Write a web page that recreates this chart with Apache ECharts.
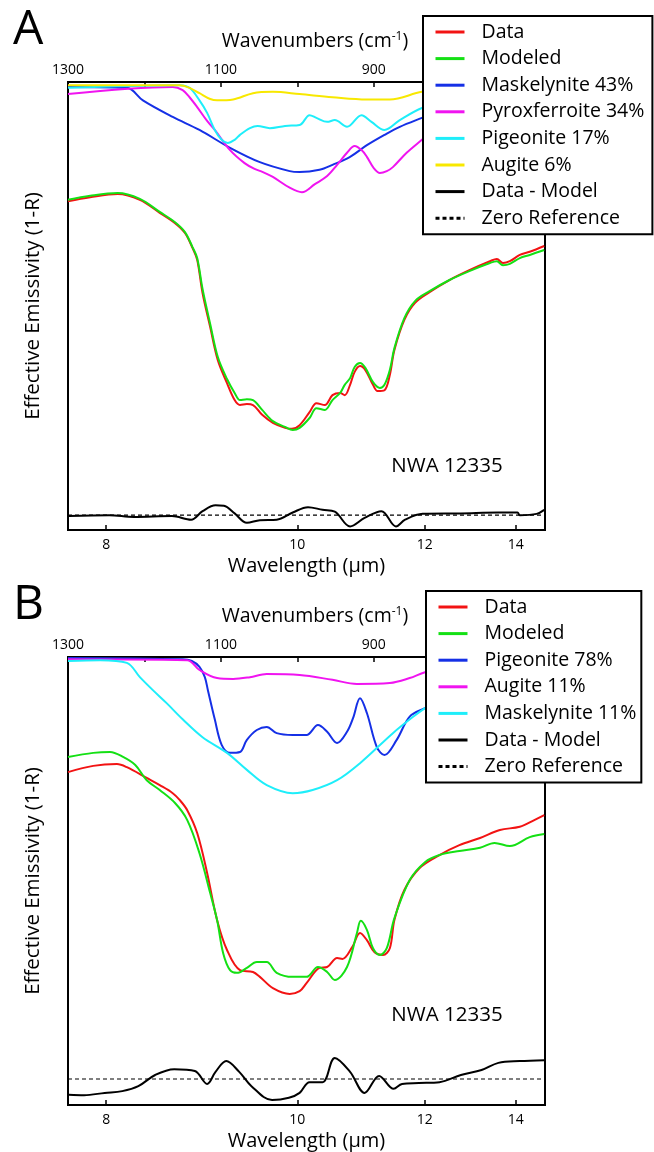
<!DOCTYPE html>
<html>
<head>
<meta charset="utf-8">
<script src="https://cdn.jsdelivr.net/npm/echarts@6/dist/echarts.min.js"></script>
<style>
  html, body { margin: 0; padding: 0; background: #fff; }
  #chart { width: 654px; height: 1152px; }
</style>
</head>
<body>
<div id="chart"></div>
<script>
// x = wavenumber (cm-1), y = emissivity on an arbitrary offset scale (0-100, no labels in the figure)
var X_MIN = 676, X_MAX = 1300;
var topTicks = [1300, 1200, 1100, 1000, 900, 800, 700];
var topLabels = [1300, 1100, 900, 700];
var wavelengthLabels = [8, 10, 12, 14];   // µm

// ---- panel A ----
var dataA = [[1300,73.4],[1271,74.3],[1235,75.0],[1206,73.7],[1180,70.8],[1160,68.5],[1147,66.3],[1137,62.9],
  [1131,60.3],[1124,52.9],[1114,45.3],[1104,37.9],[1092,32.8],[1082,29.0],[1075,27.9],[1066,28.1],[1058,27.9],
  [1046,25.7],[1032,23.9],[1016,22.8],[1007,22.6],[997,23.4],[984,26.3],[975,28.3],[964,27.9],[954,30.1],
  [944,30.6],[938,30.1],[931,32.4],[925,35.3],[918,36.6],[911,35.7],[901,32.4],[895,31.0],[886,31.2],
  [879,34.6],[873,40.2],[860,46.9],[846,50.7],[827,53.1],[801,55.8],[775,58.0],[748,60.0],[739,60.5],
  [731,59.6],[722,60.0],[709,61.4],[696,62.1],[677,63.4]];
var modelA = [[1300,73.7],[1271,74.6],[1235,75.2],[1206,73.9],[1180,71.0],[1160,68.7],[1147,66.5],[1137,63.1],
  [1131,60.7],[1124,53.8],[1114,46.0],[1104,38.6],[1092,33.7],[1082,30.6],[1075,29.0],[1066,29.2],[1058,29.0],
  [1046,26.8],[1032,24.3],[1016,23.0],[1006,22.3],[997,22.8],[984,25.0],[975,27.2],[964,26.8],[954,29.0],
  [944,30.6],[938,32.4],[931,33.9],[925,36.4],[918,37.3],[911,36.2],[901,33.0],[892,31.7],[886,32.4],
  [879,35.7],[873,40.6],[860,47.3],[846,51.1],[827,53.3],[801,55.8],[775,57.8],[748,59.6],[739,60.0],
  [731,59.1],[722,59.4],[709,60.7],[696,61.4],[677,62.5]];
var maskelyniteA = [[1300,98.9],[1223,98.7],[1202,95.9],[1163,92.2],[1128,89.3],[1088,85.3],[1049,82.1],
  [1010,80.1],[997,79.9],[971,80.4],[954,81.5],[931,83.3],[909,85.9],[886,88.2],[866,90.0],[837,92.0],
  [801,94.4],[748,96.6],[677,97.8]];
var pyroxferroiteA = [[1300,97.3],[1163,98.9],[1150,98.2],[1141,96.6],[1131,94.4],[1118,91.3],[1108,89.3],
  [1088,84.8],[1069,81.9],[1056,80.6],[1045,79.9],[1032,78.8],[1010,76.4],[994,75.4],[977,77.2],[961,79.0],
  [948,81.5],[935,84.2],[925,85.7],[916,84.8],[909,83.3],[900,80.8],[892,79.7],[883,80.1],[875,81.0],
  [857,84.2],[837,87.1],[814,90.4],[775,94.2],[735,96.0],[677,97.1]];
var pigeoniteA = [[1300,98.7],[1154,99.3],[1141,98.7],[1128,95.9],[1118,93.1],[1108,89.3],[1099,87.1],
  [1091,86.4],[1082,87.1],[1075,88.2],[1062,89.7],[1052,90.2],[1036,89.7],[1016,90.2],[997,90.4],[984,92.6],
  [975,92.0],[961,91.1],[951,91.5],[935,90.0],[916,92.6],[903,91.1],[886,89.3],[866,91.5],[837,94.2],
  [801,96.0],[735,97.8],[677,98.7]];
var augiteA = [[1300,99.3],[1154,99.3],[1141,98.7],[1128,97.5],[1114,96.2],[1105,95.9],[1084,96.1],
  [1058,97.5],[1032,97.8],[997,97.3],[954,96.6],[909,96.1],[879,96.1],[837,97.8],[788,98.7],[677,99.1]];
var residualA = [[1299,3.1],[1246,3.3],[1214,2.9],[1164,3.1],[1139,2.3],[1124,4.2],[1107,5.5],[1096,5.4],
  [1082,3.7],[1066,1.6],[1049,2.2],[1027,2.3],[1006,3.9],[986,5.1],[967,4.5],[951,4.1],[931,0.8],[912,2.7],
  [890,4.2],[871,0.8],[859,2.3],[836,3.6],[786,3.7],[737,3.9],[712,3.9],[709,3.3],[687,3.6],[677,4.5]];
var zeroA = 3.3;

// ---- panel B ----
var dataB = [[1300,74.3],[1267,75.7],[1236,76.1],[1223,75.4],[1197,73.0],[1180,71.4],[1163,69.6],[1154,68.1],
  [1144,65.8],[1131,60.7],[1118,51.8],[1105,41.3],[1092,34.6],[1075,30.1],[1058,29.7],[1049,28.6],[1032,26.1],
  [1010,24.8],[997,25.4],[988,27.2],[971,30.6],[961,30.8],[948,32.8],[941,32.6],[928,35.3],[918,38.4],
  [909,36.8],[899,34.1],[888,33.5],[879,35.0],[873,41.3],[860,48.0],[840,52.9],[814,55.8],[788,58.0],
  [761,59.6],[735,61.4],[709,62.1],[690,63.6],[677,64.7]];
var modelB = [[1300,77.7],[1267,78.6],[1245,78.8],[1228,77.7],[1212,75.9],[1197,72.5],[1180,70.3],[1160,67.4],
  [1144,63.6],[1128,56.2],[1114,47.3],[1105,41.3],[1097,33.9],[1088,30.1],[1079,29.5],[1066,30.6],[1053,31.9],
  [1040,31.9],[1027,29.5],[1006,28.6],[988,28.6],[973,30.8],[961,29.7],[951,27.9],[935,30.8],[922,38.4],
  [917,41.1],[909,39.1],[901,35.0],[892,33.5],[883,35.0],[873,41.7],[853,50.2],[833,54.2],[814,55.8],
  [788,56.7],[761,57.4],[742,58.5],[722,57.8],[696,59.8],[677,60.5]];
var pigeoniteB = [[1300,99.8],[1150,99.5],[1138,99.1],[1128,97.8],[1121,95.5],[1117,92.6],[1108,86.1],
  [1099,80.4],[1088,78.6],[1075,78.8],[1066,81.5],[1053,83.7],[1040,84.4],[1027,83.0],[1006,82.6],[988,82.6],
  [973,84.8],[961,83.3],[948,80.8],[935,83.3],[927,86.4],[918,90.8],[909,87.5],[896,79.9],[886,78.1],
  [870,81.5],[853,86.7],[833,88.6],[801,91.5],[748,96.0],[677,98.9]];
var augiteB = [[1300,99.5],[1144,99.3],[1128,97.1],[1105,95.3],[1084,95.1],[1062,95.5],[1040,96.2],[997,96.0],
  [954,94.9],[922,94.0],[879,94.2],[853,95.3],[833,96.6],[788,98.2],[677,99.3]];
var maskelyniteB = [[1300,99.1],[1258,99.3],[1223,98.7],[1206,95.5],[1189,92.6],[1171,89.7],[1150,86.1],
  [1124,82.1],[1092,78.6],[1066,74.8],[1040,71.4],[1006,69.6],[980,70.3],[948,72.5],[918,76.3],[875,83.0],
  [849,86.6],[833,88.6],[788,93.7],[735,97.1],[677,98.7]];
var residualB = [[1299,2.3],[1279,2.2],[1252,2.7],[1229,3.1],[1208,4.2],[1186,6.7],[1161,8.0],[1134,7.6],
  [1118,4.7],[1107,7.4],[1093,9.8],[1076,7.4],[1060,4.2],[1033,1.1],[1011,1.6],[997,2.7],[984,5.1],[967,5.1],
  [951,10.5],[931,7.4],[912,2.7],[893,6.5],[874,3.6],[863,4.7],[841,4.9],[814,5.1],[786,6.7],[759,7.8],
  [737,9.4],[709,9.8],[677,10.0]];
var zeroB = 5.8;

var FONT = '"Open Sans", "Noto Sans", sans-serif';
var RED = '#f21313', GREEN = '#14e014', BLUE = '#1530e6', MAGENTA = '#f014f0', CYAN = '#1eeefa', YELLOW = '#f8e800';

var panels = [
  {letter: 'A', top: 0, legendLeft: 423, padRight: 8, nwaY: 466, zero: zeroA, lines: [
    {name: 'Data', color: RED, data: dataA},
    {name: 'Modeled', color: GREEN, data: modelA},
    {name: 'Maskelynite 43%', color: BLUE, data: maskelyniteA},
    {name: 'Pyroxferroite 34%', color: MAGENTA, data: pyroxferroiteA},
    {name: 'Pigeonite 17%', color: CYAN, data: pigeoniteA},
    {name: 'Augite 6%', color: YELLOW, data: augiteA},
    {name: 'Data - Model', color: '#000', data: residualA}]},
  {letter: 'B', top: 575, legendLeft: 426, padRight: 5, nwaY: 1015, zero: zeroB, lines: [
    {name: 'Data', color: RED, data: dataB},
    {name: 'Modeled', color: GREEN, data: modelB},
    {name: 'Pigeonite 78%', color: BLUE, data: pigeoniteB},
    {name: 'Augite 11%', color: MAGENTA, data: augiteB},
    {name: 'Maskelynite 11%', color: CYAN, data: maskelyniteB},
    {name: 'Data - Model', color: '#000', data: residualB}]}
];

var bottomTicks = wavelengthLabels.map(function (l) { return 10000 / l; });
var grids = [], xAxes = [], yAxes = [], legends = [], graphics = [], series = [];

panels.forEach(function (p, i) {
  grids.push({left: 68, top: p.top + 82, width: 477, height: 448, show: true, outerBoundsMode: 'none',
              borderColor: '#000', borderWidth: 2, backgroundColor: 'transparent'});
  xAxes.push({
    gridIndex: i, type: 'value', position: 'bottom', min: X_MIN, max: X_MAX, inverse: true,
    axisLine: {show: false}, splitLine: {show: false},
    axisTick: {show: true, inside: true, length: 5, customValues: bottomTicks,
               lineStyle: {color: '#000', width: 1.5}},
    axisLabel: {customValues: bottomTicks, margin: 8, fontSize: 14, color: '#000', fontFamily: FONT,
                formatter: function (v) { return String(Math.round(10000 / v)); }},
    name: 'Wavelength (µm)', nameLocation: 'middle', nameGap: 26,
    nameTextStyle: {fontSize: 20, color: '#000', fontFamily: FONT}
  }, {
    gridIndex: i, type: 'value', position: 'top', min: X_MIN, max: X_MAX, inverse: true,
    axisLine: {show: false}, splitLine: {show: false},
    axisTick: {show: true, inside: true, length: 5, customValues: topTicks,
               lineStyle: {color: '#000', width: 1.5}},
    axisLabel: {customValues: topLabels, margin: 5, fontSize: 14, color: '#000', fontFamily: FONT,
                formatter: function (v) { return String(v); }},
    name: 'Wavenumbers (cm{sup|-1})', nameLocation: 'middle', nameGap: 31, nameMoveOverlap: false,
    nameTextStyle: {fontSize: 19.5, color: '#000', fontFamily: FONT, padding: [0, 0, 0, 17],
                    rich: {sup: {fontSize: 12, fontFamily: FONT, color: '#000', verticalAlign: 'top', padding: [0, 0, 8, 0]}}}
  });
  yAxes.push({
    gridIndex: i, type: 'value', min: 0, max: 100,
    axisLine: {show: false}, axisTick: {show: false}, axisLabel: {show: false}, splitLine: {show: false},
    name: 'Effective Emissivity (1-R)', nameLocation: 'middle', nameGap: 24,
    nameTextStyle: {fontSize: 20.5, color: '#000', fontFamily: FONT}
  });

  var names = [];
  p.lines.forEach(function (s) {
    names.push(s.name);
    series.push({
      type: 'line', name: s.name, data: s.data, xAxisIndex: 2 * i, yAxisIndex: i,
      symbol: 'none', showSymbol: false, smooth: 0.35,
      lineStyle: {color: s.color, width: 2},
      itemStyle: {color: s.color}
    });
  });
  names.push('Zero Reference');
  series.push({
    type: 'line', name: 'Zero Reference', data: [[X_MAX, p.zero], [X_MIN, p.zero]],
    xAxisIndex: 2 * i, yAxisIndex: i, symbol: 'none', showSymbol: false,
    lineStyle: {color: '#000', width: 1.2, type: [4, 3]},
    itemStyle: {color: '#000'}
  });

  legends.push({
    orient: 'vertical', left: p.legendLeft, top: p.top + 16,
    padding: [6, p.padRight, 6, 11], itemWidth: 29, itemHeight: 20, itemGap: 6.6,
    backgroundColor: '#fff', borderColor: '#000', borderWidth: 2, borderRadius: 0,
    selectedMode: false,
    lineStyle: {width: 3},
    itemStyle: {opacity: 0, color: 'rgba(0,0,0,0)', borderWidth: 0},
    textStyle: {fontSize: 19.5, lineHeight: 20, color: '#000', fontFamily: FONT, padding: [0, 0, 0, 12]},
    data: names
  });

  graphics.push(
    {type: 'text', left: 13, top: p.top + 6, style: {text: p.letter, fontSize: 48, fontFamily: FONT, fill: '#000'}},
    {type: 'text', x: 447, y: p.nwaY, style: {text: 'NWA 12335', fontSize: 20.5, fontFamily: FONT, fill: '#000',
      align: 'center', verticalAlign: 'middle'}}
  );
});

var chart = echarts.init(document.getElementById('chart'), null, {renderer: 'canvas'});
chart.setOption({
  animation: false,
  grid: grids,
  xAxis: xAxes,
  yAxis: yAxes,
  legend: legends,
  graphic: graphics,
  series: series
});
</script>
</body>
</html>
